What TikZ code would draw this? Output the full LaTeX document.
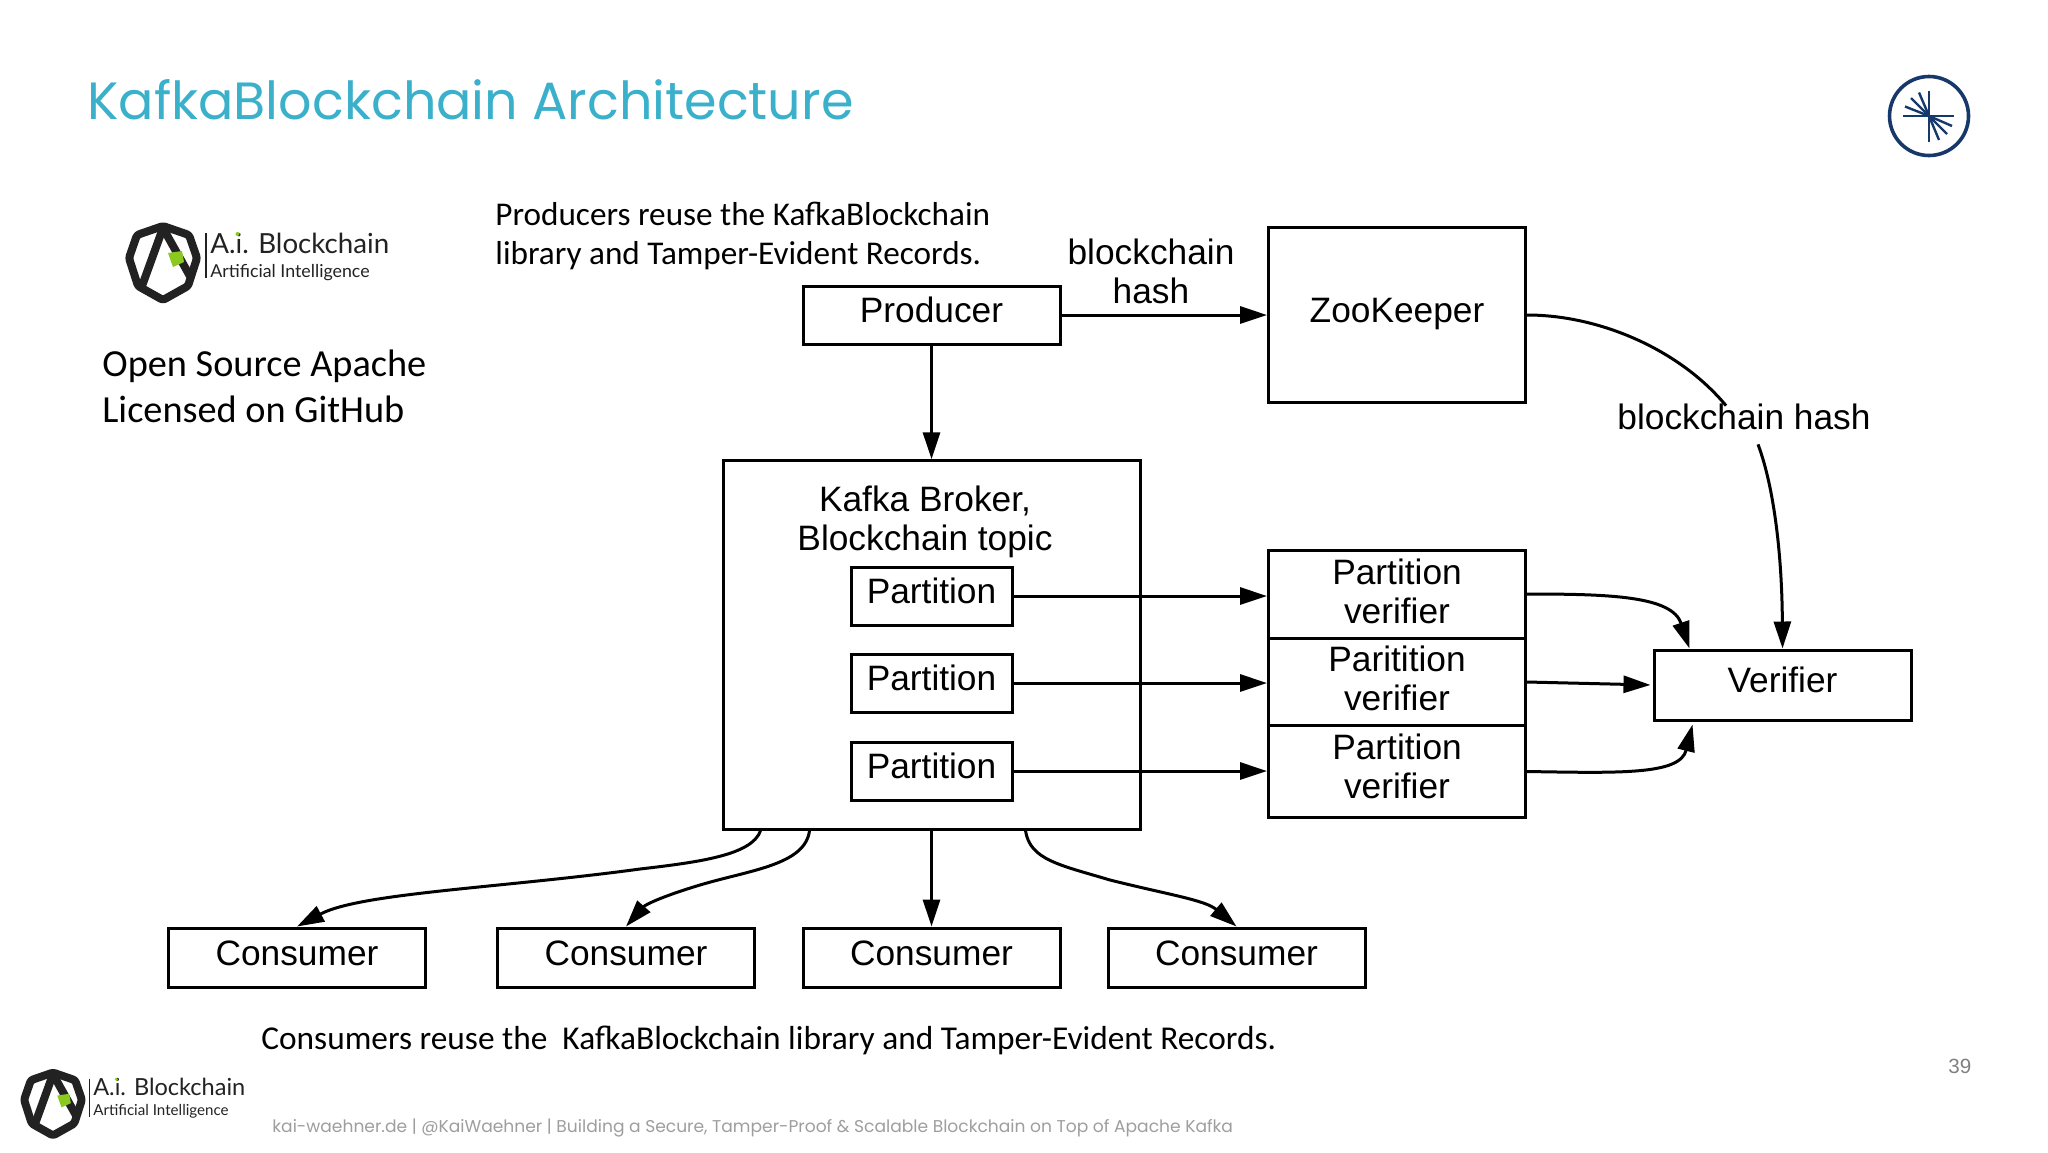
\documentclass[tikz,border=0pt]{standalone}
\usepackage{fontspec}
\setmainfont{Liberation Sans}
\newfontfamily\notefont{Carlito}
\newfontfamily\slidefont{Poppins}
\newfontfamily\logofont{Lato}
\usepackage{tikz}
\usetikzlibrary{arrows.meta,positioning}
\definecolor{titleblue}{HTML}{3AB0CB}
\definecolor{navy}{HTML}{17386B}
\definecolor{logogreen}{HTML}{8CC920}
\definecolor{logoblack}{HTML}{222222}

\tikzset{
    ailogo/.pic={
        \draw[line width=4pt, logoblack, line join=round, rounded corners=1.2pt] (0,-37) -- (26,-28) -- (34,-5) -- (25,23) -- (0,37) -- (-25,23) -- (-34,-5) -- (-26,-28) -- cycle;
        \draw[line width=4pt, logoblack] (0,-35) -- (-21,23);
        \draw[line width=4pt, logoblack] (0,-35) -- (28,15);
        \fill[logogreen] (5,-10) -- (19,-12) -- (21,-1) -- (10,4) -- cycle;
        \draw[line width=.6pt, logoblack] (43,-30) -- (43,15);
        \node[logoword, font=\logofont\fontsize{13.85}{16}\selectfont] (-name) at (47,-10) {A.i. Blockchain};
        \fill[logogreen] (74.5,-29) circle (2);
        \node[logoword, font=\logofont\fontsize{8.9}{10}\selectfont] (-sub) at (47,14) {Artificial Intelligence};
    }
}

\begin{document}
\begin{tikzpicture}[
    x=0.5pt, y=-0.5pt,
    box/.style={rectangle, draw, line width=1.5pt, inner sep=0pt, minimum width=128.5pt, font=\fontsize{17.65}{19.5}\selectfont, text height=12.7pt, text depth=5pt},
    twoline/.style={rectangle, draw, line width=1.5pt, inner sep=0pt, minimum width=128.5pt, align=center, font=\fontsize{17.65}{19.5}\selectfont, text depth=4pt},
    partition/.style={box, minimum width=80.5pt, minimum height=29pt},
    consumer/.style={box, minimum height=29.5pt},
    plain/.style={inner sep=0pt, align=center, font=\fontsize{17.65}{19.5}\selectfont},
    note/.style={inner sep=0pt, align=left, anchor=base west, font=\notefont},
    logoword/.style={inner sep=0pt, anchor=base west, text=logoblack},
    arrow/.style={-{Triangle[length=13.5pt,width=8.5pt]}, line width=1.5pt}
]
\useasboundingbox (0,0) rectangle (2048,1152);

% Title
\node[inner sep=0pt, anchor=base west, text=titleblue, font=\slidefont\fontsize{26.2}{30}\selectfont] at (87,119) (title) {KafkaBlockchain Architecture};

% Top right mark
\node[circle, draw=navy, line width=1.8pt, minimum size=39.5pt, inner sep=0pt] at (1929,116) (mark) {};
\draw[navy, line width=1.3pt] (1903,116) -- (1954,116) (1929,91) -- (1929,142);
\foreach \dx/\dy in {-18/-18,-10/-23.5,-24/-9.5,23/10,18/18,10/24}
    \draw[navy, line width=1.2pt] (mark.center) -- ++(\dx,\dy);

% Logos
\pic (logotop) at (163,263) {ailogo};
\pic[scale=.85, transform shape] (logobot) at (53,1104) {ailogo};

% Notes
\node[note, font=\notefont\fontsize{16.6}{19.5}\selectfont] at (495,225.5) (note1a) {Producers reuse the KafkaBlockchain};
\node[note, font=\notefont\fontsize{16.6}{19.5}\selectfont] at (495,264.5) (note1b) {library and Tamper-Evident Records.};
\node[note, font=\notefont\fontsize{19.15}{23}\selectfont] at (102,376.5) (note2a) {Open Source Apache};
\node[note, font=\notefont\fontsize{19.15}{23}\selectfont] at (102,422.5) (note2b) {Licensed on GitHub};
\node[note, font=\notefont\fontsize{16.67}{19.5}\selectfont] at (261,1049.5) (note3) {Consumers reuse the\ \ KafkaBlockchain library and Tamper-Evident Records.};

% Producer and ZooKeeper
\node[box, minimum height=29pt] at (931.5,315) (producer) {Producer};
\node[box, minimum height=87.5pt] at (1397,315) (zookeeper) {ZooKeeper};
\node[plain] at (1151,271) (hash1) {blockchain\\hash};

% Broker
\node[rectangle, draw, line width=1.5pt, minimum width=208.5pt, minimum height=184.25pt, inner sep=0pt] at (931.5,645) (broker) {};
\node[plain] at (925,522) (brokerlabel) {Kafka Broker,\\Blockchain topic};
\node[partition] at (931.5,596) (part1) {Partition};
\node[partition] at (931.5,683) (part2) {Partition};
\node[partition] at (931.5,771) (part3) {Partition};

% Verifiers
\node[twoline, minimum height=44pt, text depth=3pt] at (1397,594) (pv1) {Partition\\verifier};
\node[twoline, minimum height=43.75pt] at (1397,682) (pv2) {Paritition\\verifier};
\node[twoline, minimum height=46pt, text depth=5pt] at (1397,771.5) (pv3) {Partition\\verifier};
\node[box, minimum height=35pt] at (1782.5,685) (verifier) {Verifier};
\node[plain] at (1744,417) (hash2) {blockchain hash};

% Consumers
\node[consumer] at (297,957.5) (cons1) {Consumer};
\node[consumer] at (626,957.5) (cons2) {Consumer};
\node[consumer] at (931.5,957.5) (cons3) {Consumer};
\node[consumer] at (1236.5,957.5) (cons4) {Consumer};

% Arrows
\draw[arrow] (producer) -- (zookeeper.west |- producer);
\draw[arrow] (producer) -- (broker.north -| producer);
\draw[arrow] (part1) -- (pv1.west |- part1);
\draw[arrow] (part2) -- (pv2.west |- part2);
\draw[arrow] (part3) -- (pv3.west |- part3);
\draw[arrow] (pv1.east) .. controls (1610,594) and (1672,596) .. ([xshift=18.5pt]verifier.north west);
\draw[arrow, shorten >=1pt] (pv2.east) -- (verifier.west);
\draw[arrow] (pv3.east) .. controls (1620,773) and (1680,775) .. ([xshift=20pt,yshift=-1.5pt]verifier.south west);

% Hash curve to verifier
\draw[line width=1.5pt] (zookeeper.east) .. controls (1600,315) and (1680,350) .. ([xshift=-9pt,yshift=-1pt]hash2.north);
\draw[arrow] ([xshift=7pt,yshift=-7pt]hash2.south) .. controls (1775,490) and (1782,560) .. (verifier.north);

% Broker to consumers
\draw[arrow] ([xshift=19.5pt]broker.south west) .. controls (752,855) and (700,862) .. (640,869) .. controls (500,888) and (360,893) .. (cons1.north);
\draw[arrow] ([xshift=44pt]broker.south west) .. controls (805,865) and (750,870) .. (700,885) .. controls (660,897) and (645,905) .. (cons2.north);
\draw[arrow] (broker.south -| cons3) -- (cons3.north);
\draw[arrow] ([xshift=-58pt]broker.south east) .. controls (1030,860) and (1060,865) .. (1110,880) .. controls (1170,895) and (1205,900) .. (cons4.north);

% Footer
\node[inner sep=0pt, anchor=base west, text=black!38, font=\slidefont\fontsize{8.55}{11}\selectfont] at (272,1132) (footer) {kai-waehner.de | @KaiWaehner | Building a Secure, Tamper-Proof \& Scalable Blockchain on Top of Apache Kafka};
\node[inner sep=0pt, anchor=base west, text=black!50, font=\fontsize{10.3}{12}\selectfont] at (1948,1073) (pageno) {39};

\end{tikzpicture}
\end{document}
